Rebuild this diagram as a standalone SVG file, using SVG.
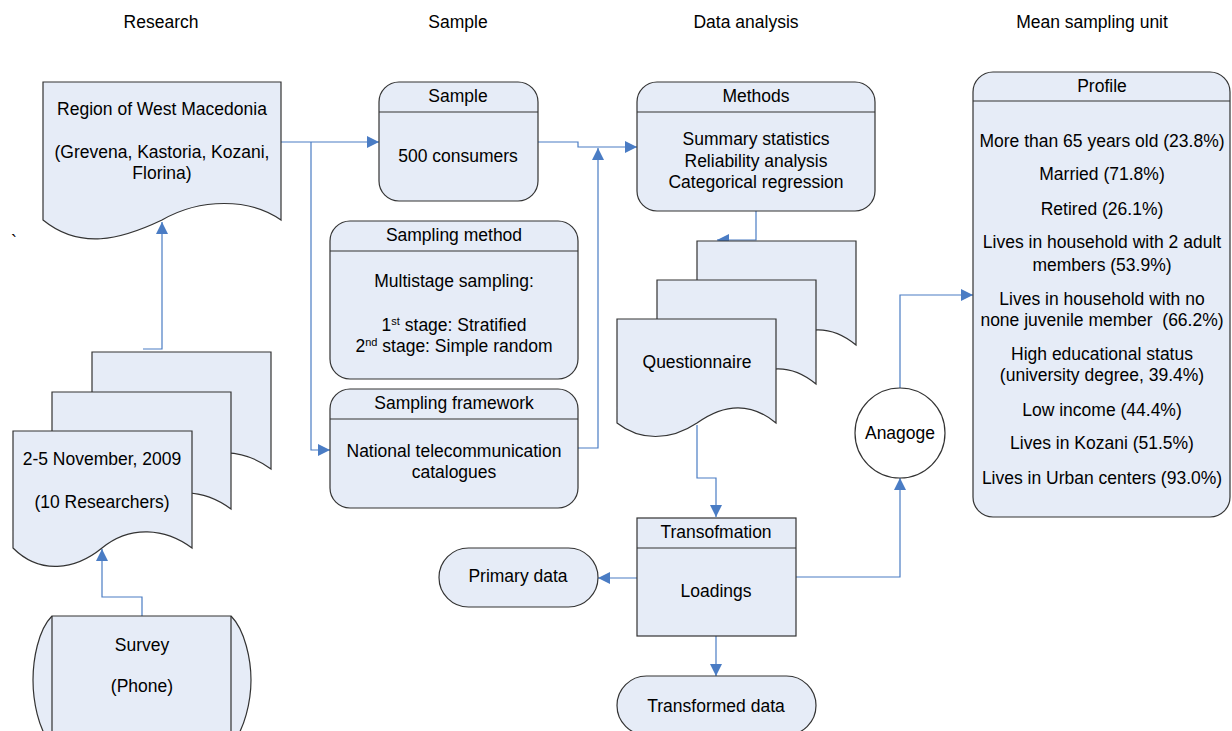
<svg xmlns="http://www.w3.org/2000/svg" width="1232" height="731" viewBox="0 0 1232 731">
<style>
.n{fill:#E6ECF7;stroke:#333;stroke-width:1.2}
.l{fill:none;stroke:#333;stroke-width:1.2}
.c{fill:none;stroke:#4A7CC4;stroke-width:1.2;marker-end:url(#ah)}
text{font-family:"Liberation Sans",Arial,sans-serif;font-size:17.5px;fill:#000;text-anchor:middle}
.sup{font-size:11px}
</style>
<defs>
<marker id="ah" markerUnits="userSpaceOnUse" markerWidth="12" markerHeight="12" refX="12" refY="6" orient="auto">
<path d="M0,0 L12,6 L0,12 Z" fill="#4A7CC4"/>
</marker>
<path id="rdoc" d="M13,431 H192 V548 C165,528 130,525 102,548 C75,570 40,575 13,548 Z"/>
<path id="qdoc" d="M617,319 H776 V423 C752,403 725,403 697,423 C670,441 640,441 617,423 Z"/>
</defs>

<g id="headers">
<text x="161" y="28">Research</text>
<text x="458" y="28">Sample</text>
<text x="746" y="28">Data analysis</text>
<text x="1092" y="28">Mean sampling unit</text>
</g>

<g id="tick"><text x="11" y="248" style="text-anchor:start">`</text></g>

<g id="connectors">
<path class="c" d="M142,616 V597 H102 V549"/>
<path class="c" d="M143,349 H162 V222"/>
<path class="c" d="M281,142 H379"/>
<path class="c" d="M311,142 V450 H330"/>
<path class="c" d="M538,142 H578 V147 H637"/>
<path class="c" d="M578,448 H598 V148"/>
<path class="c" d="M756,211 V240 H717"/>
<path class="c" d="M697,425 V478 H716 V517"/>
<path class="c" d="M637,578 H598"/>
<path class="c" d="M716,636 V676"/>
<path class="c" d="M796,577 H900 V478"/>
<path class="c" d="M900,389 V295 H973"/>
</g>

<g id="region">
<path class="n" d="M43,82 H281 V220 C250,198 200,198 162,220 C120,240 80,250 43,220 Z"/>
<text x="162" y="115">Region of West Macedonia</text>
<text x="162" y="158">(Grevena, Kastoria, Kozani,</text>
<text x="162" y="179">Florina)</text>
</g>

<g id="research-docs">
<use href="#rdoc" class="n" transform="translate(79,-79)"/>
<use href="#rdoc" class="n" transform="translate(39,-39)"/>
<use href="#rdoc" class="n"/>
<text x="102" y="465">2-5 November, 2009</text>
<text x="102" y="508">(10 Researchers)</text>
</g>

<g id="survey">
<path class="n" d="M52,616 H231 C245,630 251,660 251,680 C251,700 245,730 231,745 H52 C38,730 33,700 33,680 C33,660 38,630 52,616 Z"/>
<path class="l" d="M52,616 V745 M231,616 V745"/>
<text x="142" y="651">Survey</text>
<text x="142" y="692">(Phone)</text>
</g>

<g id="sample">
<rect class="n" x="379" y="82" width="159" height="119" rx="20"/>
<path class="l" d="M379,112 H538"/>
<text x="458" y="102">Sample</text>
<text x="458" y="162">500 consumers</text>
</g>

<g id="sampling-method">
<rect class="n" x="330" y="221" width="248" height="158" rx="20"/>
<path class="l" d="M330,251 H578"/>
<text x="454" y="241">Sampling method</text>
<text x="454" y="287">Multistage sampling:</text>
<text x="454" y="331">1<tspan class="sup" dy="-6">st</tspan><tspan dy="6"> stage: Stratified</tspan></text>
<text x="454" y="352">2<tspan class="sup" dy="-6">nd</tspan><tspan dy="6"> stage: Simple random</tspan></text>
</g>

<g id="sampling-framework">
<rect class="n" x="330" y="389" width="248" height="119" rx="20"/>
<path class="l" d="M330,419 H578"/>
<text x="454" y="409">Sampling framework</text>
<text x="454" y="457">National telecommunication</text>
<text x="454" y="478">catalogues</text>
</g>

<g id="methods">
<rect class="n" x="637" y="82" width="238" height="129" rx="20"/>
<path class="l" d="M637,112 H875"/>
<text x="756" y="102">Methods</text>
<text x="756" y="145">Summary statistics</text>
<text x="756" y="167">Reliability analysis</text>
<text x="756" y="188">Categorical regression</text>
</g>

<g id="questionnaire">
<use href="#qdoc" class="n" transform="translate(80,-78)"/>
<use href="#qdoc" class="n" transform="translate(40,-39)"/>
<use href="#qdoc" class="n"/>
<text x="697" y="368">Questionnaire</text>
</g>

<g id="transformation">
<rect class="n" x="637" y="518" width="159" height="118"/>
<path class="l" d="M637,548 H796"/>
<text x="716" y="538">Transofmation</text>
<text x="716" y="597">Loadings</text>
</g>

<g id="primary-data">
<rect class="n" x="439" y="548" width="159" height="59" rx="29.5"/>
<text x="518" y="582">Primary data</text>
</g>

<g id="transformed-data">
<rect class="n" x="617" y="676" width="199" height="59" rx="29.5"/>
<text x="716" y="712">Transformed data</text>
</g>

<g id="anagoge">
<circle cx="900" cy="433" r="45" fill="#fff" stroke="#333" stroke-width="1.2"/>
<text x="900" y="439">Anagoge</text>
</g>

<g id="profile">
<rect class="n" x="973" y="72" width="257" height="445" rx="20"/>
<path class="l" d="M973,101 H1230"/>
<text x="1102" y="92">Profile</text>
<text x="1102" y="147">More than 65 years old (23.8%)</text>
<text x="1102" y="180">Married (71.8%)</text>
<text x="1102" y="215">Retired (26.1%)</text>
<text x="1102" y="248">Lives in household with 2 adult</text>
<text x="1102" y="271">members (53.9%)</text>
<text x="1102" y="305">Lives in household with no</text>
<text x="1102" y="326" xml:space="preserve">none juvenile member  (66.2%)</text>
<text x="1102" y="360">High educational status</text>
<text x="1102" y="381">(university degree, 39.4%)</text>
<text x="1102" y="416">Low income (44.4%)</text>
<text x="1102" y="449">Lives in Kozani (51.5%)</text>
<text x="1102" y="484">Lives in Urban centers (93.0%)</text>
</g>
</svg>
